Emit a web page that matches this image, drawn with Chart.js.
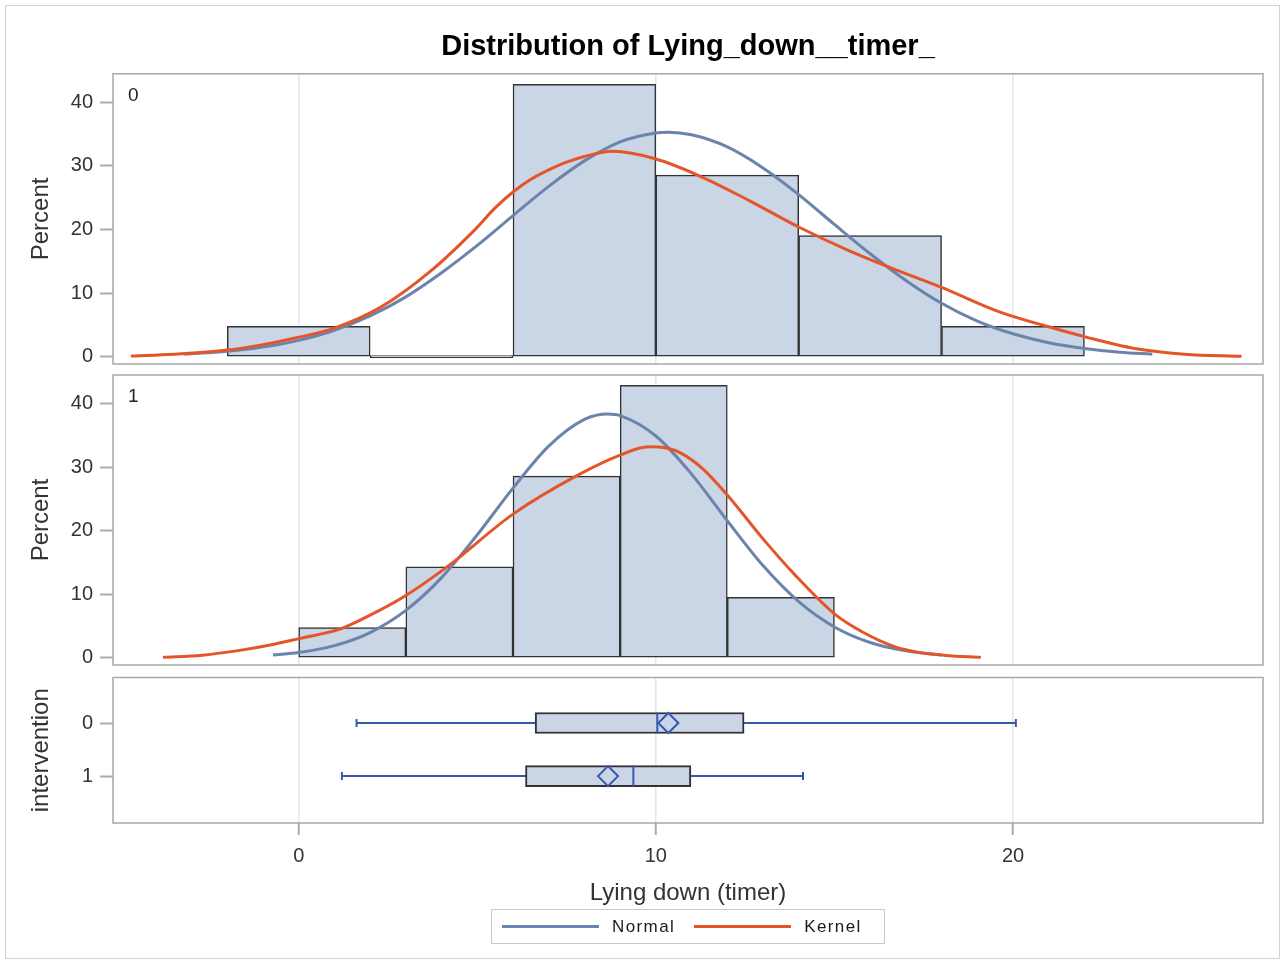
<!DOCTYPE html>
<html>
<head>
<meta charset="utf-8">
<title>Distribution of Lying_down__timer_</title>
<script src="https://cdn.jsdelivr.net/npm/chart.js@4.4.0/dist/chart.umd.min.js"></script>
<style>
  body { margin: 0; background: #fff; }
  #page { position: relative; width: 1285px; height: 963px; overflow: hidden; font-family: 'Liberation Sans', Arial, sans-serif; }
  #frame { position: absolute; left: 5px; top: 5px; width: 1275px; height: 954px; border: 1.5px solid #d2d2d2; box-sizing: border-box; }
  canvas { position: absolute; left: 0; }
  #legend { position: absolute; left: 491px; top: 909px; width: 394px; height: 35px; border: 1px solid #c8c8c8; box-sizing: border-box;
            display: flex; align-items: center; padding-left: 10px; font-size: 17px; letter-spacing: 1.4px; color: #1a1a1a; }
  #legend .swatch { display: inline-block; width: 97px; height: 3px; margin-right: 13px; }
  #legend .item { display: flex; align-items: center; margin-right: 19px; }
</style>
</head>
<body>
<div id="page">
  <div id="frame"></div>
  <canvas id="hist0" width="1285" height="370" style="top:0"></canvas>
  <canvas id="hist1" width="1285" height="300" style="top:370px"></canvas>
  <canvas id="boxes" width="1285" height="250" style="top:665px"></canvas>
  <div id="legend"></div>
</div>
<script>
// shared x axis
var xMin = -5.2, xMax = 27.0;
var xTicks = [0, 10, 20];
var pctMin = -1.15, pctMax = 44.5;
var pctTicks = [0, 10, 20, 30, 40];

var groups = ['0', '1'];

// histogram bins (midpoints) and percent of each bin
var bins0 = [0, 4, 8, 12, 16, 20];
var pct0 = [4.76, 0, 42.86, 28.57, 19.05, 4.76];
var bins1 = [1.5, 4.5, 7.5, 10.5, 13.5];
var pct1 = [4.76, 14.29, 28.57, 42.86, 9.52];

// fitted curves
var normal0X = [-3.2, -2, -1, 0, 1, 2, 3, 4, 5, 6, 7, 8, 9, 10, 10.35, 11, 12, 13, 14, 15, 16, 17, 18, 19, 20, 21, 22, 23, 23.9];
var normal0Y = [0.4, 0.84, 1.51, 2.57, 4.16, 6.41, 9.41, 13.2, 17.5, 22.2, 26.8, 30.8, 33.8, 35.2, 35.3, 34.9, 33.0, 29.7, 25.5, 20.8, 16.2, 12.0, 8.4, 5.6, 3.6, 2.2, 1.3, 0.7, 0.4];
var kernel0X = [-4.7, -3.5, -2, -1, 0, 1, 2.3, 3.7, 4.9, 5.5, 6, 6.5, 7, 7.5, 8, 8.8, 10, 11.2, 12.6, 14, 15.4, 16.8, 18, 19.6, 21, 22, 23.4, 24.8, 26.4];
var kernel0Y = [0.1, 0.4, 1.05, 1.9, 3.05, 4.5, 7.8, 13.5, 19.8, 23.4, 25.9, 27.9, 29.4, 30.6, 31.5, 32.3, 31.1, 28.5, 24.6, 20.4, 16.7, 13.5, 10.9, 7.1, 4.7, 3.15, 1.3, 0.4, 0.05];
var normal1X = [-0.72, 0, 1, 2, 3, 4, 5, 6, 7, 8, 8.65, 9, 10, 11, 12, 13, 14, 15, 16, 17, 18];
var normal1Y = [0.42, 0.82, 1.9, 3.96, 7.44, 12.6, 19.35, 26.7, 33.3, 37.5, 38.35, 38.1, 34.9, 28.9, 21.55, 14.5, 8.82, 4.84, 2.39, 1.07, 0.43];
var kernel1X = [-3.8, -2.7, -1.65, -0.8, 0, 1.15, 2, 3, 4.2, 6, 7.8, 9, 9.8, 10.3, 10.7, 11.3, 12, 13, 13.9, 15, 15.8, 16.7, 17.4, 18.1, 19.1];
var kernel1Y = [0.05, 0.4, 1.15, 2.0, 3.0, 4.5, 6.7, 9.8, 14.5, 22.6, 28.7, 31.9, 33.2, 33.0, 32.2, 29.8, 25.6, 18.7, 13.0, 6.9, 4.0, 1.7, 0.8, 0.36, 0.05];

// box plot summary per intervention group
var boxMin = [1.62, 1.21];
var boxQ1 = [6.62, 6.35];
var boxMedian = [10.04, 9.37];
var boxMean = [10.35, 8.66];
var boxQ3 = [12.47, 10.98];
var boxMax = [20.08, 14.12];
var boxYMin = -0.857, boxYMax = 1.883;

var normalColor = '#6a84ad';
var kernelColor = '#e4562a';
var barFill = '#cad5e5';
var barEdge = '#333333';
var boxBlue = '#3558b0';
var gridColor = '#e6e6e6';
var tickMarkColor = '#a8acb0';

Chart.defaults.font.family = "'Liberation Sans', Arial, sans-serif";
Chart.defaults.color = '#333';
Chart.defaults.animation = false;

function pts(xs, ys) {
  return xs.map(function (x, i) { return { x: x, y: ys[i] }; });
}
function fixedTicks(list) {
  return function (scale) { scale.ticks = list.map(function (v) { return { value: v }; }); };
}
// fixed axis sizes so the three panels line up exactly
function fixWidth(w) {
  return function (s) { s.width = w; s.paddingTop = 0; s.paddingBottom = 0; };
}
function fixHeight(h) {
  return function (s) { s.height = h; s.paddingLeft = 0; s.paddingRight = 0; };
}

// box round every panel plus the group label in its corner
var panelFrame = {
  id: 'panelFrame',
  afterDatasetsDraw: function (chart, args, opts) {
    var ctx = chart.ctx, a = chart.chartArea;
    ctx.save();
    ctx.strokeStyle = '#a4a8ac';
    ctx.lineWidth = 1.5;
    ctx.strokeRect(a.left, a.top, a.right - a.left, a.bottom - a.top);
    if (opts.label) {
      ctx.fillStyle = '#222';
      ctx.font = "19px 'Liberation Sans', Arial, sans-serif";
      ctx.textBaseline = 'top';
      ctx.fillText(opts.label, a.left + 15, a.top + 12);
    }
    ctx.restore();
  }
};

function sharedX() {
  return {
    type: 'linear', min: xMin, max: xMax, offset: false,
    afterBuildTicks: fixedTicks(xTicks),
    afterFit: fixHeight(0),
    ticks: { display: false },
    grid: { color: gridColor, lineWidth: 1.5, drawTicks: false, offset: false },
    border: { display: false }
  };
}

function histChart(id, group, bins, pct, nX, nY, kX, kY, padding, title) {
  return new Chart(document.getElementById(id), {
    type: 'bar',
    data: {
      datasets: [
        { type: 'line', label: 'Kernel', data: pts(kX, kY), borderColor: kernelColor, borderWidth: 3,
          pointRadius: 0, cubicInterpolationMode: 'monotone' },
        { type: 'line', label: 'Normal', data: pts(nX, nY), borderColor: normalColor, borderWidth: 3,
          pointRadius: 0, cubicInterpolationMode: 'monotone' },
        { label: 'Percent', data: pts(bins, pct), backgroundColor: barFill, borderColor: barEdge,
          borderWidth: 1.5, borderSkipped: false, barPercentage: 1, categoryPercentage: 1, minBarLength: 2 }
      ]
    },
    options: {
      responsive: false,
      layout: { padding: padding },
      plugins: {
        legend: { display: false },
        tooltip: { enabled: false },
        title: title,
        panelFrame: { label: group }
      },
      scales: {
        x: sharedX(),
        y: {
          type: 'linear', min: pctMin, max: pctMax,
          afterBuildTicks: fixedTicks(pctTicks),
          afterFit: fixWidth(113),
          ticks: { padding: 7, font: { size: 20 } },
          grid: { drawOnChartArea: false, tickLength: 13, tickColor: tickMarkColor, tickWidth: 2 },
          border: { display: false },
          title: { display: true, text: 'Percent', font: { size: 24 }, padding: { top: 27, bottom: 0 } }
        }
      }
    },
    plugins: [panelFrame]
  });
}

var chart0 = histChart('hist0', groups[0], bins0, pct0, normal0X, normal0Y, kernel0X, kernel0Y,
  { top: 30, right: 22, bottom: 6, left: 0 },
  { display: true, text: 'Distribution of Lying_down__timer_', color: '#000', fullSize: false,
    font: { size: 29, weight: 'bold' }, padding: { top: 0, bottom: 9 } });

var chart1 = histChart('hist1', groups[1], bins1, pct1, normal1X, normal1Y, kernel1X, kernel1Y,
  { top: 5, right: 22, bottom: 5, left: 0 }, { display: false });

// box plot panel
var boxData = [
  { type: 'scatter', label: 'Mean', data: groups.map(function (g, i) { return { x: boxMean[i], y: i }; }),
    pointStyle: 'rectRot', pointRadius: 10, pointBorderWidth: 2, pointBorderColor: boxBlue,
    pointBackgroundColor: 'rgba(0,0,0,0)' },
  { type: 'scatter', label: 'Median', data: groups.map(function (g, i) { return { x: boxMedian[i], y: i }; }),
    pointStyle: 'line', pointRotation: 90, pointRadius: 10.5, pointBorderWidth: 2, pointBorderColor: boxBlue },
  { label: 'Box', indexAxis: 'y', data: groups.map(function (g, i) { return { y: i, x: [boxQ1[i], boxQ3[i]] }; }),
    backgroundColor: barFill, borderColor: barEdge, borderWidth: 2, borderSkipped: false, barThickness: 21 }
];
groups.forEach(function (g, i) {
  boxData.push({ type: 'line', label: 'Whisker ' + g, data: [{ x: boxMin[i], y: i }, { x: boxMax[i], y: i }],
    borderColor: boxBlue, borderWidth: 2, pointStyle: 'line', pointRotation: 90, pointRadius: 4,
    pointBorderWidth: 2, pointBorderColor: boxBlue });
});

var boxX = sharedX();
boxX.afterFit = fixHeight(92);
boxX.ticks = { display: true, padding: 9, font: { size: 20 } };
boxX.grid = { color: gridColor, lineWidth: 1.5, drawTicks: true, tickLength: 12, tickColor: tickMarkColor, tickWidth: 2, offset: false };
boxX.title = { display: true, text: 'Lying down (timer)', font: { size: 24 }, padding: { top: 0, bottom: 7 } };

var chart2 = new Chart(document.getElementById('boxes'), {
  type: 'bar',
  data: { datasets: boxData },
  options: {
    responsive: false,
    layout: { padding: { top: 10, right: 22, bottom: 0, left: 0 } },
    plugins: { legend: { display: false }, tooltip: { enabled: false }, panelFrame: {} },
    scales: {
      x: boxX,
      y: {
        type: 'linear', reverse: true, min: boxYMin, max: boxYMax, offset: false,
        afterBuildTicks: fixedTicks([0, 1]),
        afterFit: fixWidth(113),
        ticks: { padding: 7, font: { size: 20 }, callback: function (v) { return groups[v]; } },
        grid: { drawOnChartArea: false, tickLength: 13, tickColor: tickMarkColor, tickWidth: 2, offset: false },
        border: { display: false },
        title: { display: true, text: 'intervention', font: { size: 24 }, padding: { top: 27, bottom: 0 } }
      }
    }
  },
  plugins: [panelFrame]
});

// legend built from the fit datasets, Normal first
var legendItems = ['Normal', 'Kernel'].map(function (name) {
  var ds = chart0.data.datasets.find(function (d) { return d.label === name; });
  return '<span class="item"><span class="swatch" style="background:' + ds.borderColor + '"></span>' + ds.label + '</span>';
});
document.getElementById('legend').innerHTML = legendItems.join('');
</script>
</body>
</html>
